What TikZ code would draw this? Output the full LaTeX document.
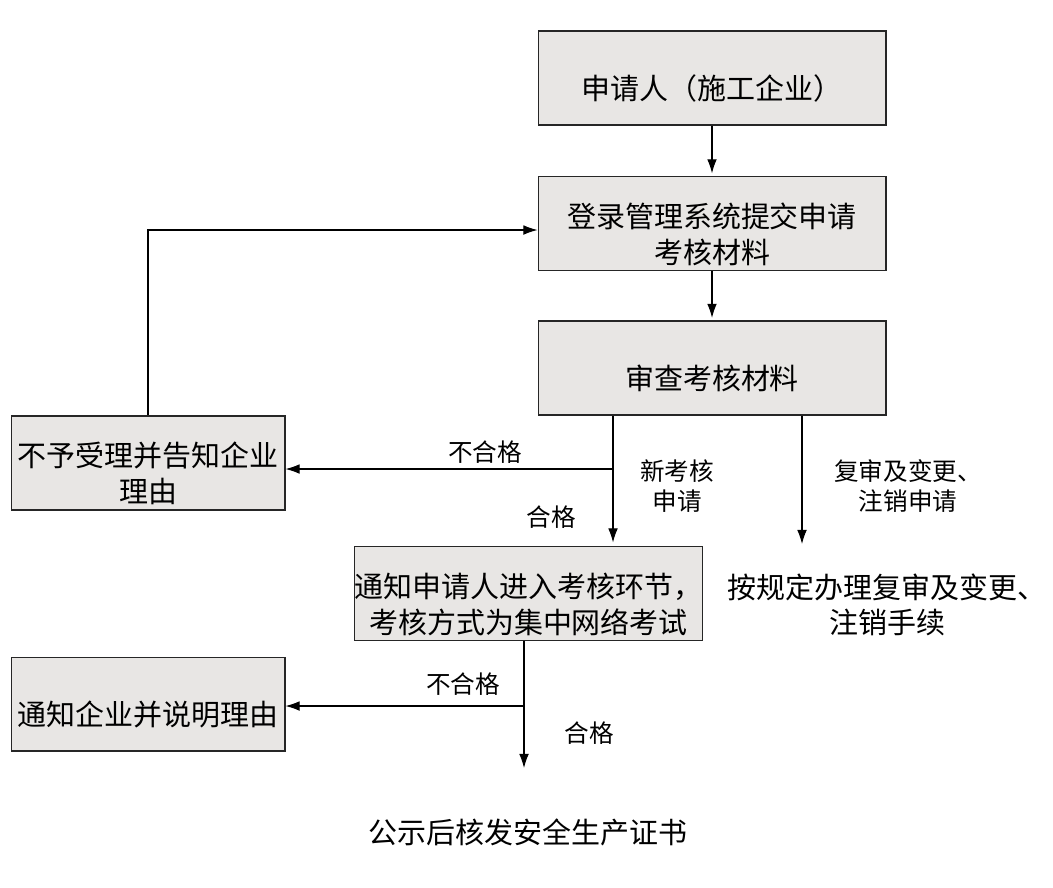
\documentclass[tikz,border=0pt]{standalone}
\usepackage{fontspec}
\setmainfont{Noto Sans CJK SC}
\usetikzlibrary{arrows.meta}
\definecolor{boxgray}{RGB}{232,230,228}
\tikzset{
    boxtext/.style={align=center, inner sep=0pt, yshift=-.21cm, font=\fontsize{16.5}{20.5}\selectfont},
    box/.style={draw=black!85, fill=boxgray, line width=.6pt, minimum width=6.96cm, minimum height=1.88cm, inner sep=0pt, label={[boxtext]center:{#1}}},
    sidebox/.style={box={#1}, minimum width=5.48cm},
    lbl/.style={align=center, font=\fontsize{14}{17}\selectfont},
    plain/.style={align=center, font=\fontsize{16.5}{20}\selectfont}
}
\begin{document}
\begin{tikzpicture}[>={Latex[length=8pt,width=5.5pt]}, x=0.02cm, y=-0.02cm, line width=.6pt]
\useasboundingbox (0,0) rectangle (1053,887);
\node[box={申请人（施工企业）}] (apply) at (712,78) {};
\node[box={登录管理系统提交申请\\考核材料}] (submit) at (712,223.5) {};
\node[box={审查考核材料}] (check) at (712,368) {};
\node[sidebox={不予受理并告知企业\\理由}] (reject) at (148,463) {};
\node[box={通知申请人进入考核环节，\\考核方式为集中网络考试}] (exam) at (528.5,593.5) {};
\node[sidebox={通知企业并说明理由}] (fail) at (148,704) {};
\node[plain] (renew) at (887,605) {按规定办理复审及变更、\\注销手续};
\node[plain] (cert) at (528,832) {公示后核发安全生产证书};

\coordinate (j1) at (613,469);
\coordinate (j2) at (524,706);
\coordinate (r1) at (802,544);
\coordinate (c1) at (524,768);

\draw[->, shorten >=1.5pt] (apply) -- (submit);
\draw[->, shorten >=1.5pt] (submit) -- (check);
\draw[->] (reject.north) |- ([yshift=-.13cm]submit.west);
\draw[->, shorten >=2pt] (check.south -| j1) -- (exam.north -| j1);
\draw[->] (j1) -- (reject.east |- j1);
\draw[->] (check.south -| r1) -- (r1);
\draw[->] (exam.south -| j2) -- (c1);
\draw[->] (j2) -- (fail.east |- j2);

\node[lbl] (no1) at (485,452) {不合格};
\node[lbl] (ok1) at (551,517) {合格};
\node[lbl] (newapp) at (677,486) {新考核\\申请};
\node[lbl] (change) at (908,486) {复审及变更、\\注销申请};
\node[lbl] (no2) at (463,684) {不合格};
\node[lbl] (ok2) at (589,733) {合格};

\end{tikzpicture}
\end{document}
